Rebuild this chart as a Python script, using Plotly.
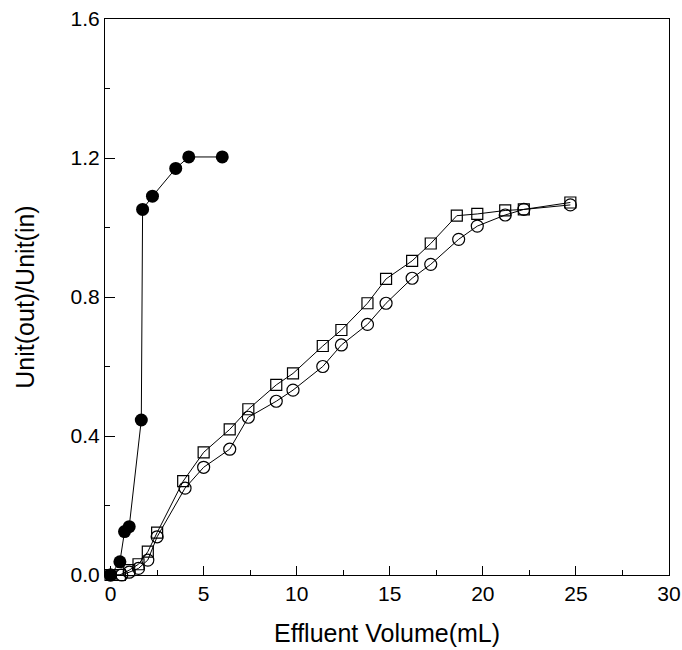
import plotly.graph_objects as go

# filled circles
x_fast = [0, 0.5, 0.75, 1.0, 1.65, 1.72, 2.25, 3.5, 4.2, 6.0]
y_fast = [0, 0.038, 0.125, 0.139, 0.446, 1.052, 1.09, 1.17, 1.203, 1.203]

# open squares
x_sq = [0, 0.5, 1.0, 1.5, 2.0, 2.5, 3.9, 5.0, 6.4, 7.4, 8.9, 9.8, 11.4, 12.4,
        13.8, 14.8, 16.2, 17.2, 18.6, 19.7, 21.2, 22.2, 24.7]
y_sq = [0, 0, 0.014, 0.031, 0.067, 0.122, 0.27, 0.353, 0.419, 0.477, 0.547, 0.58,
        0.659, 0.705, 0.782, 0.852, 0.904, 0.954, 1.034, 1.039, 1.049, 1.052, 1.072]

# open circles
x_ci = [0, 0.6, 1.0, 1.5, 2.0, 2.5, 4.0, 5.0, 6.4, 7.4, 8.9, 9.8, 11.4, 12.4,
        13.8, 14.8, 16.2, 17.2, 18.7, 19.7, 21.2, 22.2, 24.7]
y_ci = [0, 0, 0.008, 0.019, 0.043, 0.11, 0.25, 0.31, 0.362, 0.454, 0.5, 0.532,
        0.6, 0.662, 0.721, 0.782, 0.854, 0.894, 0.966, 1.004, 1.036, 1.052, 1.065]

x_ticks = [0, 5, 10, 15, 20, 25, 30]
y_ticks = [0.0, 0.4, 0.8, 1.2, 1.6]

fig = go.Figure()
fig.add_trace(go.Scatter(x=x_ci, y=y_ci, mode='lines+markers',
                         line=dict(color='black', width=1),
                         marker=dict(symbol='circle-open', size=12, color='black',
                                     line=dict(width=1.2))))
fig.add_trace(go.Scatter(x=x_sq, y=y_sq, mode='lines+markers',
                         line=dict(color='black', width=1),
                         marker=dict(symbol='square-open', size=11, color='black',
                                     line=dict(width=1.2))))
fig.add_trace(go.Scatter(x=x_fast, y=y_fast, mode='lines+markers',
                         line=dict(color='black', width=1),
                         marker=dict(symbol='circle', size=13, color='black')))
for tr in fig.data:
    tr.cliponaxis = False

font = "Liberation Sans, Arial, sans-serif"
fig.update_layout(
    width=682, height=650,
    margin=dict(l=105, r=13, t=19, b=75),
    paper_bgcolor='white', plot_bgcolor='white',
    showlegend=False,
    font=dict(family=font, size=21, color='black'),
    xaxis=dict(range=[-0.3, 30], tickvals=x_ticks, ticktext=[str(v) for v in x_ticks],
               ticks='inside', ticklen=9, tickwidth=1, tickcolor='black',
               minor=dict(ticks='inside', ticklen=5, dtick=2.5, tickcolor='black'),
               showline=True, linecolor='black', linewidth=1.2, mirror=True,
               showgrid=False, zeroline=False, automargin=False,
               title=dict(text='Effluent Volume(mL)', font=dict(size=25), standoff=20)),
    yaxis=dict(range=[0, 1.6], tickvals=y_ticks, ticktext=['%.1f' % v for v in y_ticks],
               ticks='inside', ticklen=10, tickwidth=1, tickcolor='black',
               minor=dict(ticks='inside', ticklen=5, dtick=0.2, tickcolor='black'),
               showline=True, linecolor='black', linewidth=1.2, mirror=True,
               showgrid=False, zeroline=False, automargin=False,
               title=dict(text='Unit(out)/Unit(in)', font=dict(size=25), standoff=28)),
)

fig.write_html("out.html", config={'displayModeBar': False},
               post_script="document.body.style.margin='0';")
